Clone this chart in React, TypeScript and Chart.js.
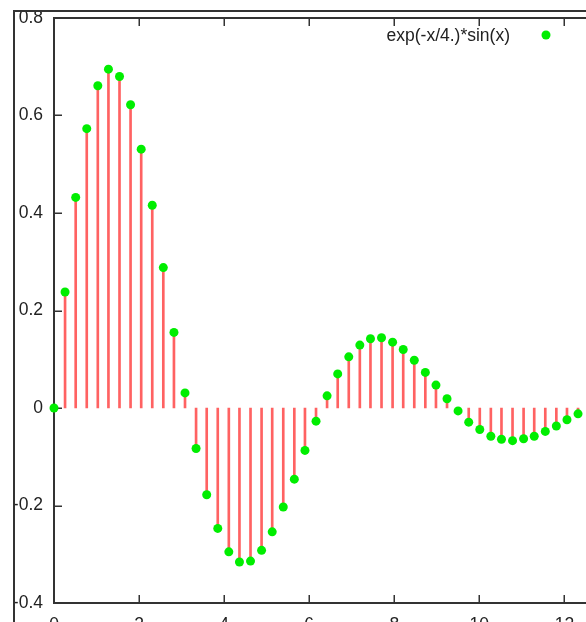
import React, { useEffect, useRef } from "react";
import { Chart, registerables } from "chart.js";

Chart.register(...registerables);

// Sample positions (x)
const sampleX = [
  0, 0.26, 0.51, 0.77, 1.03, 1.28, 1.54, 1.8, 2.05, 2.31,
  2.57, 2.82, 3.08, 3.34, 3.59, 3.85, 4.11, 4.36, 4.62, 4.88,
  5.13, 5.39, 5.65, 5.9, 6.16, 6.42, 6.67, 6.93, 7.19, 7.44,
  7.7, 7.96, 8.21, 8.47, 8.73, 8.98, 9.24, 9.5, 9.75, 10.01,
  10.27, 10.52, 10.78, 11.04, 11.29, 11.55, 11.81, 12.06, 12.32,
];

// Series values
const sampleY = [
  0, 0.238, 0.432, 0.573, 0.661, 0.695, 0.68, 0.622, 0.531, 0.416,
  0.288, 0.155, 0.031, -0.083, -0.178, -0.247, -0.295, -0.316, -0.314, -0.292,
  -0.254, -0.203, -0.146, -0.087, -0.027, 0.025, 0.07, 0.105, 0.129, 0.142,
  0.144, 0.135, 0.12, 0.098, 0.073, 0.047, 0.019, -0.006, -0.029, -0.044,
  -0.058, -0.064, -0.067, -0.063, -0.058, -0.048, -0.037, -0.024, -0.012,
];

const seriesLabel = "exp(-x/4.)*sin(x)";

const X_MIN = 0;
const X_MAX = 14;
const X_STEP = 2;
const Y_MIN = -0.4;
const Y_MAX = 0.8;
const Y_STEP = 0.2;

const FONT = "'Liberation Sans', Arial, Helvetica, sans-serif";
const FONT_SIZE = 17.5;
const TEXT_COLOR = "#222";
const AXIS_COLOR = "#333";
const STEM_COLOR = "#ff6262";
const POINT_COLOR = "#00ee00";

const framePlugin = {
  id: "gnuFrame",
  beforeDatasetsDraw(chart: any) {
    const { ctx, chartArea: a, scales } = chart;
    const xs = scales.x;
    const ys = scales.y;
    ctx.save();
    ctx.strokeStyle = AXIS_COLOR;
    ctx.lineWidth = 2;
    ctx.strokeRect(a.left, a.top, a.right - a.left, a.bottom - a.top);
    ctx.lineWidth = 1.5;
    ctx.beginPath();
    for (const t of ys.ticks) {
      const py = Math.round(ys.getPixelForValue(t.value)) + 0.25;
      ctx.moveTo(a.left, py);
      ctx.lineTo(a.left + 8, py);
      ctx.moveTo(a.right, py);
      ctx.lineTo(a.right - 8, py);
    }
    for (const t of xs.ticks) {
      const px = Math.round(xs.getPixelForValue(t.value)) + 0.25;
      ctx.moveTo(px, a.bottom);
      ctx.lineTo(px, a.bottom - 8);
      ctx.moveTo(px, a.top);
      ctx.lineTo(px, a.top + 8);
    }
    ctx.stroke();
    ctx.restore();
  },
  afterDraw(chart: any) {
    const { ctx, chartArea: a } = chart;
    ctx.save();
    ctx.font = `${FONT_SIZE}px ${FONT}`;
    ctx.fillStyle = TEXT_COLOR;
    ctx.textAlign = "right";
    ctx.textBaseline = "middle";
    const ty = a.top + 18;
    ctx.fillText(seriesLabel, a.left + 456, ty);
    ctx.beginPath();
    ctx.fillStyle = POINT_COLOR;
    ctx.arc(a.left + 492, ty - 1, 4.5, 0, Math.PI * 2);
    ctx.fill();
    ctx.restore();
  },
};

export default function App() {
  const canvasRef = useRef<HTMLCanvasElement | null>(null);

  useEffect(() => {
    const canvas = canvasRef.current;
    if (!canvas) return;
    const points = sampleX.map((x, i) => ({ x, y: sampleY[i] }));
    const chart = new Chart(canvas, {
      type: "bar",
      data: {
        datasets: [
          {
            type: "scatter",
            label: seriesLabel,
            data: points,
            showLine: false,
            pointRadius: 4.5,
            pointBackgroundColor: POINT_COLOR,
            pointBorderWidth: 0,
            pointHoverRadius: 4.5,
            clip: false,
            order: 1,
          } as any,
          {
            type: "bar",
            label: "stems",
            data: points,
            backgroundColor: STEM_COLOR,
            borderWidth: 0,
            barThickness: 2,
            grouped: false,
            order: 2,
          } as any,
        ],
      },
      options: {
        responsive: false,
        animation: false,
        devicePixelRatio: 1,
        layout: { padding: { top: 18, left: 0, right: 0, bottom: 0 } },
        plugins: {
          legend: { display: false },
          tooltip: { enabled: false },
        },
        scales: {
          x: {
            type: "linear",
            min: X_MIN,
            max: X_MAX,
            offset: false,
            grid: { display: false, drawTicks: false },
            border: { display: false },
            ticks: {
              stepSize: X_STEP,
              padding: 12,
              maxRotation: 0,
              color: TEXT_COLOR,
              font: { family: FONT, size: FONT_SIZE },
            },
            afterFit: (s: any) => {
              s.height = 47;
              s.paddingLeft = 0;
              s.paddingRight = 0;
            },
          },
          y: {
            type: "linear",
            min: Y_MIN,
            max: Y_MAX,
            grid: { display: false, drawTicks: false },
            border: { display: false },
            ticks: {
              stepSize: Y_STEP,
              padding: 11,
              color: TEXT_COLOR,
              font: { family: FONT, size: FONT_SIZE },
              callback: (v: any) => {
                const r = Math.round(Number(v) * 10) / 10;
                return r === 0 ? "0" : String(r);
              },
            },
            afterFit: (s: any) => {
              s.width = 54;
              s.paddingTop = 0;
              s.paddingBottom = 0;
            },
          },
        },
      } as any,
      plugins: [framePlugin],
    });
    return () => chart.destroy();
  }, []);

  return (
    <div
      style={{
        position: "fixed",
        left: 0,
        top: 0,
        width: 586,
        height: 622,
        overflow: "hidden",
        background: "#fff",
      }}
    >
      <canvas
        ref={canvasRef}
        width={654}
        height={650}
        style={{ position: "absolute", left: 0, top: 0, width: 654, height: 650 }}
      />
      <div
        style={{
          position: "absolute",
          left: 13,
          top: 10,
          width: 700,
          height: 700,
          borderLeft: `2px solid ${AXIS_COLOR}`,
          borderTop: `2px solid ${AXIS_COLOR}`,
          pointerEvents: "none",
        }}
      />
    </div>
  );
}
